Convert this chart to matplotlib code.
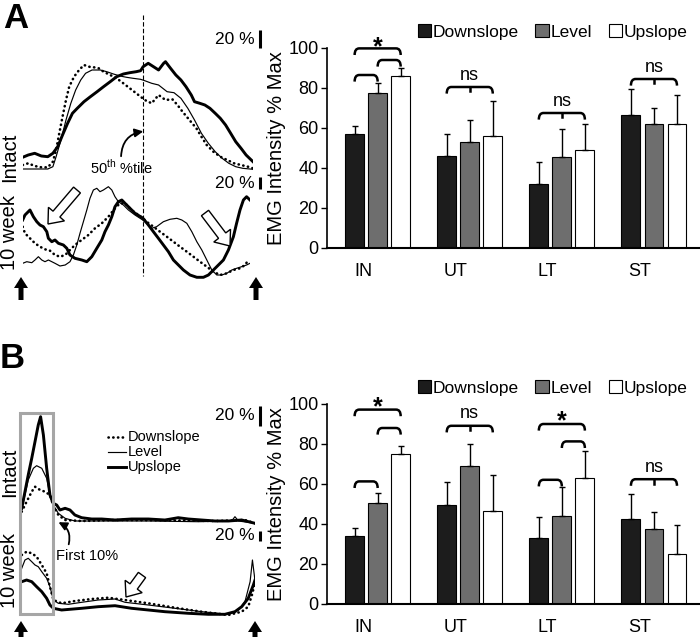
import matplotlib
matplotlib.use('Agg')
import matplotlib.pyplot as plt
from matplotlib.patches import Patch, FancyArrow, Rectangle, PathPatch
from matplotlib.path import Path
from matplotlib.lines import Line2D
import numpy as np

plt.rcParams['font.family'] = ['Liberation Sans', 'DejaVu Sans']
plt.rcParams['mathtext.fontset'] = 'custom'
plt.rcParams['mathtext.rm'] = 'Liberation Sans'

# ---------------- bar data (EMG intensity % max) ----------------
muscles = ['IN', 'UT', 'LT', 'ST']
conditions = ['Downslope', 'Level', 'Upslope']
bar_colors = ['#1c1c1c', '#6e6e6e', '#ffffff']

a_down = [57, 46, 32, 66.5]
a_down_err = [4, 11, 11, 13]
a_level = [77.5, 53, 45.5, 62]
a_level_err = [5, 11, 14, 8]
a_up = [86, 56, 49, 62]
a_up_err = [4, 17.5, 13, 14.5]

b_down = [34, 49.5, 33, 42.5]
b_down_err = [4, 11.5, 10.5, 12.5]
b_level = [50.5, 69, 44, 37.5]
b_level_err = [5, 11, 14.5, 8.5]
b_up = [75, 46.5, 63, 25]
b_up_err = [4, 18, 13.5, 14.5]

# brackets: (muscle, from bar, to bar, height, middle tick)
a_brackets = [(0, 0, 2, 99.8, False), (0, 1, 2, 94, False), (0, 0, 1, 86.5, False),
              (1, 0, 2, 80.5, True), (2, 0, 2, 67.5, True), (3, 0, 2, 84.5, True)]
a_marks = [(0, '*', 104.5), (1, 'ns', 86.5), (2, 'ns', 73.5), (3, 'ns', 90)]
b_brackets = [(0, 0, 2, 97.2, False), (0, 1, 2, 88, False), (0, 0, 1, 61.3, False),
              (1, 0, 2, 89.1, True), (2, 0, 2, 90, False), (2, 1, 2, 81.3, False),
              (2, 0, 1, 62.1, False), (3, 0, 2, 62.4, True)]
b_marks = [(0, '*', 102.2), (1, 'ns', 95.5), (2, '*', 95.2), (3, 'ns', 68.3)]

# ---------------- EMG traces: % gait cycle vs amplitude (a.u.) ----------------
# panel A, intact
a_int_down_x = [0, 2.4, 5.2, 8.1, 10.9, 13.1, 14.5, 15.9, 17.3, 18.8, 20.2, 22.3, 24.5, 26.6, 28.7,
                30.9, 33.0, 35.1, 38.0, 40.8, 43.7, 46.5, 49.3, 51.2, 53.0, 56.0, 59.0, 62.0, 65.0,
                67.2, 69.4, 72.4, 75.4, 77.6, 79.9, 82.8, 85.8, 88.8, 91.8, 94.8, 97.8, 100]
a_int_down_y = [7, 8.7, 6, 4.7, 4.7, 10.3, 22, 39, 55.3, 72, 85.3, 95.3, 102, 107, 105.3,
                104.7, 103.7, 100.3, 97, 93.7, 88.7, 83.7, 78.7, 75.3, 72, 68.7, 77, 72, 72.7,
                67, 60.3, 52, 43.7, 35.3, 27, 20.3, 15.3, 12, 8.7, 7, 5.3, 3.7]
a_int_level_x = [0, 10.9, 13.1, 14.5, 16.6, 18.8, 20.9, 23.0, 25.2, 27.3, 30.1, 33.7, 36.5, 39.4,
                 42.3, 45.1, 47.9, 51.2, 53.0, 56.0, 59.0, 62.7, 65.7, 68.7, 71.7, 74.6, 77.6,
                 80.6, 83.6, 86.6, 89.5, 92.5, 95.5, 100]
a_int_level_y = [3, 3, 5.3, 15.3, 32, 52, 68.7, 82, 92, 98.7, 102, 102, 100.3, 98,
                 96, 94.7, 93.7, 92.7, 91.3, 88.7, 87, 80.3, 79.3, 73.7, 63.7, 52, 38.7,
                 28.7, 20.3, 13.7, 8.7, 5.3, 3.7, 2.7]
a_int_up_x = [0, 2.4, 5.2, 8.1, 10.9, 13.1, 15.2, 17.3, 19.5, 21.6, 23.7, 26.6, 29.4, 32.3, 35.1,
              38.0, 40.8, 43.7, 46.5, 49.3, 51.2, 52.3, 54.5, 56.8, 59.0, 61.2, 62.0, 64.2, 66.5,
              68.7, 70.9, 73.2, 74.6, 76.9, 79.1, 81.3, 83.6, 85.8, 88.1, 90.3, 92.5, 94.8, 97.0, 100]
a_int_up_y = [14.7, 17, 18.7, 16, 15.3, 18.7, 25.3, 37, 48.7, 58.7, 63.7, 70.3, 75.3, 80.3, 85.3,
              90.3, 95.3, 98, 99.3, 100.3, 101.3, 105.3, 108.7, 105.3, 102, 108.7, 110.3, 103.7, 97,
              92, 85.3, 77, 70.3, 68.7, 67, 63.7, 58.7, 53.7, 47, 38.7, 30.3, 23.7, 17, 10.3]

# panel A, 10 week
a_wk_down_x = [0, 1.0, 3.2, 5.4, 7.6, 9.8, 12.0, 14.2, 16.4, 18.7, 20.8, 23.0, 25.9, 28.9, 31.8,
               34.8, 37.7, 40.6, 42.8, 45.0, 47.9, 52.8, 54.5, 57.5, 60.4, 63.4, 66.3, 69.2, 72.2,
               75.1, 78.0, 81.0, 83.9, 86.8, 89.8, 92.7, 95.6, 97.8, 99.3]
a_wk_down_y = [55.3, 48.7, 43.7, 38.7, 35.3, 32.7, 31.3, 27, 25.3, 27, 32, 37, 42, 47, 53.7,
               58.7, 65.3, 73.7, 78.7, 78.7, 72, 63.7, 60.3, 55.3, 50.3, 45.3, 40.3, 35.3, 30.3,
               25.3, 20.3, 15.3, 10.3, 7, 8.7, 12, 13.7, 17, 22]
a_wk_level_x = [0, 1.8, 4.0, 5.4, 6.9, 8.4, 9.8, 11.3, 12.8, 14.2, 16.4, 18.7, 20.8, 22.3, 23.8,
                25.2, 26.7, 28.2, 29.6, 31.1, 32.6, 34.0, 35.5, 37.7, 39.2, 40.6, 42.1, 44.3, 46.5,
                49.4, 52.8, 54.5, 56.7, 58.9, 61.9, 64.8, 67.8, 70.0, 72.2, 74.4, 76.6, 78.8, 81.0,
                83.2, 85.4, 87.6, 89.8, 92.0, 94.1, 96.3, 98.5, 100]
a_wk_level_y = [18.7, 20.3, 19.3, 22, 25.3, 22, 20.3, 22, 20.3, 18.7, 16, 17, 20.3, 27, 37,
                48.7, 60.3, 72, 83.7, 92, 93.7, 90.3, 92, 95.3, 92, 85.3, 80.3, 77, 72,
                67, 62, 58.7, 53.7, 55.3, 60.3, 62.7, 63.7, 62, 58.7, 50.3, 40.3, 32, 22,
                12, 7, 7, 8.7, 12, 13.7, 15.3, 17, 18.7]
a_wk_up_x = [0, 1.0, 3.2, 4.7, 6.2, 7.6, 9.1, 10.6, 11.3, 12.8, 14.2, 15.7, 17.9, 19.4, 20.8,
             23.0, 26.0, 28.2, 30.4, 32.6, 34.8, 36.2, 37.7, 39.2, 40.6, 42.1, 43.6, 45.0, 47.2,
             49.4, 52.8, 55.3, 57.5, 59.7, 61.9, 64.1, 66.3, 68.5, 70.7, 73.6, 76.6, 79.5, 81.7,
             83.9, 86.1, 88.3, 90.5, 92.7, 94.1, 95.6, 97.1, 98.5, 100]
a_wk_up_y = [62, 67, 72, 65.3, 60.3, 57, 55.3, 50.3, 43.7, 40.3, 42, 38.7, 37, 33.7, 27,
             23.7, 22, 20.3, 25.3, 33.7, 42, 50.3, 57, 65.3, 75.3, 80.3, 82, 78.7, 73.7,
             68.7, 64, 57, 50.3, 43.7, 37, 30.3, 22, 17, 12, 7, 4.7, 4.7, 7,
             12, 17, 22, 32, 45.3, 58.7, 72, 82, 85.3, 82]

# panel B, intact
b_int_down_x = [0, 2.1, 4.3, 5.7, 7.9, 10.0, 12.1, 13.5, 15.7, 18.6, 25.7, 40.0, 61.4, 82.9, 95.7, 100]
b_int_down_y = [13.3, 23.3, 33.3, 38.3, 35, 33.3, 30, 20, 10, 5, 4, 5, 4.7, 4, 5, 1.7]
b_int_level_x = [0, 1.4, 2.8, 5.0, 6.4, 8.6, 10.7, 12.1, 13.5, 15.7, 18.6, 22.8, 32.8, 54.3, 75.7,
                 90.0, 91.4, 92.9, 100]
b_int_level_y = [15, 30, 45, 56.7, 59.3, 56.7, 46.7, 30, 20, 11.7, 6.7, 4, 4, 4, 3.3,
                 4, 8.3, 4, 1.7]
b_int_up_x = [0, 1.4, 2.8, 4.3, 5.7, 7.1, 8.1, 9.3, 10.7, 12.1, 13.5, 15.0, 16.4, 18.6, 20.7,
              22.8, 25.7, 30.0, 34.3, 40.0, 47.1, 54.3, 61.4, 67.1, 71.4, 77.1, 82.9, 88.6, 94.3, 100]
b_int_up_y = [16.7, 33.3, 50, 66.7, 83.3, 100, 108.3, 90, 56.7, 30, 21.7, 20, 15, 16.7, 15,
              10, 7.3, 6, 6, 5, 6, 6, 5, 7.3, 6, 5, 4, 4, 5, 1.7]

# panel B, 10 week
b_wk_down_x = [0, 2.1, 4.3, 6.4, 8.6, 10.7, 12.1, 13.6, 17.1, 22.8, 30.0, 37.1, 44.3, 54.3, 65.7,
               77.1, 88.6, 94.3, 97.1, 98.9, 100]
b_wk_down_y = [62, 65.3, 63.7, 60.3, 52, 43.7, 30.3, 17, 13.7, 16, 18, 19.3, 17, 13.7, 9.3,
               5.3, 2, 5.3, 10.3, 23.7, 35.3]
b_wk_level_x = [0, 1.4, 2.8, 4.3, 5.7, 7.1, 8.6, 10.7, 12.1, 13.6, 15.7, 20.0, 25.7, 32.8, 40.0,
                44.3, 54.3, 65.7, 77.1, 88.6, 92.9, 95.7, 97.9, 98.9, 99.7, 100]
b_wk_level_y = [48.7, 57, 58.7, 55.3, 52, 50.3, 45.3, 38.7, 30.3, 17, 13.7, 12.7, 14.7, 17, 18,
                14.7, 12, 8.7, 5.3, 2.7, 7, 15.3, 35.3, 57, 42, 35.3]
b_wk_up_x = [0, 2.1, 4.3, 6.4, 8.6, 10.7, 12.1, 13.6, 17.1, 25.7, 32.8, 40.0, 47.1, 54.3, 61.4,
             71.4, 80.0, 87.1, 91.4, 94.3, 97.1, 99.3, 100]
b_wk_up_y = [35.3, 37, 35.3, 30.3, 25.3, 18.7, 12, 8.7, 7, 8.7, 10.3, 11.3, 8.7, 7, 5.3,
             3.7, 2.7, 2.7, 5.3, 10.3, 18.7, 32, 37]

W, H = 700, 637
fig = plt.figure(figsize=(7, 6.37), dpi=100)


def px_axes(x0, y0, x1, y1):
    # axes from pixel box (top-left origin)
    return fig.add_axes([x0 / W, 1 - y1 / H, (x1 - x0) / W, (y1 - y0) / H])


def bracket(ax, x1, x2, y, tick):
    r, d = 0.05, 3.3
    verts = [(x1, y - d), (x1, y), (x1 + r, y), (x2 - r, y), (x2, y), (x2, y - d)]
    codes = [Path.MOVETO, Path.CURVE3, Path.CURVE3, Path.LINETO, Path.CURVE3, Path.CURVE3]
    ax.add_patch(PathPatch(Path(verts, codes), fill=False, lw=1.8, ec='black', clip_on=False))
    if tick:
        xm = (x1 + x2) / 2
        ax.plot([xm, xm], [y, y - 2.2], color='black', lw=1.8, clip_on=False)


def bar_panel(top, down, down_err, level, level_err, up, up_err, brackets, marks):
    ax = px_axes(327, top, 700, top + 200)
    x = np.arange(len(muscles))
    off = 0.25
    vals = [down, level, up]
    errs = [down_err, level_err, up_err]
    for k in range(3):
        ax.bar(x + (k - 1) * off, vals[k], width=0.205, color=bar_colors[k],
               edgecolor='black', linewidth=0.8, zorder=2)
        ax.errorbar(x + (k - 1) * off, vals[k], yerr=[np.zeros(len(x)), errs[k]], fmt='none',
                    ecolor='black', elinewidth=1.0, capsize=2.5, capthick=1.0, zorder=3)
    for m, a, b, y, tick in brackets:
        bracket(ax, m + (a - 1) * off, m + (b - 1) * off, y, tick)
    for m, txt, y in marks:
        if txt == '*':
            ax.text(m, y - 4, txt, ha='center', va='center', fontsize=18, fontweight='bold',
                    clip_on=False)
        else:
            ax.text(m, y, txt, ha='center', va='center', fontsize=13, clip_on=False)
    ax.set_xlim(-0.55, 3.5)
    ax.set_ylim(0, 100)
    ax.set_yticks(range(0, 101, 20))
    ax.set_xticks(x - 0.155)
    ax.set_xticklabels(muscles)
    ax.tick_params(axis='x', length=0, pad=11, labelsize=13)
    ax.tick_params(axis='y', direction='out', length=4, width=1, pad=2, labelsize=13)
    for s in ['top', 'right']:
        ax.spines[s].set_visible(False)
    ax.spines['left'].set_linewidth(1.2)
    ax.spines['bottom'].set_linewidth(1.5)
    ax.set_ylabel('EMG Intensity % Max', fontsize=14.5, labelpad=2)
    handles = [Patch(facecolor=bar_colors[k], edgecolor='black', linewidth=0.8, label=conditions[k])
               for k in range(3)]
    ax.legend(handles=handles, ncol=3, loc='center', bbox_to_anchor=(0.605, 1.08), frameon=False,
              fontsize=12.5, handlelength=0.75, handleheight=0.75, handletextpad=0.12,
              columnspacing=0.95, borderpad=0, borderaxespad=0)
    return ax


bar_panel(48, a_down, a_down_err, a_level, a_level_err, a_up, a_up_err, a_brackets, a_marks)
bar_panel(404, b_down, b_down_err, b_level, b_level_err, b_up, b_up_err, b_brackets, b_marks)


def trace_axes(x0, x1, base, span=125):
    ax = px_axes(x0, base - span, x1, base)
    ax.set_xlim(0, 100)
    ax.set_ylim(0, span)
    ax.axis('off')
    return ax


def draw_traces(ax, dx, dy, lx, ly, ux, uy):
    ax.plot(dx, dy, color='black', lw=1.9, linestyle=(0, (0.1, 1.7)), dash_capstyle='round')
    ax.plot(lx, ly, color='black', lw=0.85)
    ax.plot(ux, uy, color='black', lw=2.1)


draw_traces(trace_axes(22.7, 253, 172), a_int_down_x, a_int_down_y, a_int_level_x, a_int_level_y,
            a_int_up_x, a_int_up_y)
draw_traces(trace_axes(22.7, 250, 282), a_wk_down_x, a_wk_down_y, a_wk_level_x, a_wk_level_y,
            a_wk_up_x, a_wk_up_y)
draw_traces(trace_axes(21.7, 255, 525), b_int_down_x, b_int_down_y, b_int_level_x, b_int_level_y,
            b_int_up_x, b_int_up_y)
draw_traces(trace_axes(21.7, 255, 617), b_wk_down_x, b_wk_down_y, b_wk_level_x, b_wk_level_y,
            b_wk_up_x, b_wk_up_y)

# ---------------- annotation layer (pixel coords) ----------------
ov = fig.add_axes([0, 0, 1, 1])
ov.set_xlim(0, W)
ov.set_ylim(H, 0)
ov.axis('off')
ov.patch.set_alpha(0)

ov.text(3, 19, 'A', fontsize=25, fontweight='bold', va='center', ha='left')
ov.text(0, 358, 'B', fontsize=25, fontweight='bold', va='center', ha='left')

for y, txt in [(157, 'Intact'), (232, '10 week'), (472, 'Intact'), (570, '10 week')]:
    ov.text(10, y, txt, rotation=90, ha='center', va='center', fontsize=14.5)

# scale bars
for y, h in [(39, 18), (183, 12), (416, 20), (536, 10)]:
    ov.text(255, y, '20 %', ha='right', va='center', fontsize=12.5)
    ov.plot([259.5, 259.5], [y - h / 2, y + h / 2], color='black', lw=2.2, solid_capstyle='butt')

# 50th percentile line
ov.plot([143, 143], [15, 276], color='black', lw=0.8, dashes=(4, 2))
ov.text(121, 167, r'50$^{\mathrm{th}}$ %tile', ha='center', va='center', fontsize=10.5)
ov.annotate('', xy=(146, 131), xytext=(121, 159),
            arrowprops=dict(arrowstyle='-|>,head_length=0.5,head_width=0.25', lw=1.3, color='black',
                            connectionstyle='arc3,rad=-0.45'))

# first 10% box
ov.add_patch(Rectangle((19.5, 413), 33.5, 201, fill=False, ec='#a6a6a6', lw=2.2))
ov.text(87, 556, 'First 10%', ha='center', va='center', fontsize=10.5)
ov.annotate('', xy=(56, 521), xytext=(68, 547),
            arrowprops=dict(arrowstyle='-|>,head_length=0.5,head_width=0.25', lw=1.3, color='black',
                            connectionstyle='arc3,rad=0.45'))

# trace legend in B
for y, lab, ls, lw in [(437, 'Downslope', (0, (0.1, 1.7)), 1.9), (452, 'Level', '-', 0.85),
                       (467, 'Upslope', '-', 2.1)]:
    ov.add_line(Line2D([108, 126], [y, y], color='black', lw=lw, linestyle=ls,
                       dash_capstyle='round'))
    ov.text(128, y, lab, ha='left', va='center', fontsize=10.5)

# hollow arrows
for (x0, y0), (x1, y1) in [((77, 190), (48, 224)), ((205, 213), (230, 246)),
                           ((142, 575), (126, 597))]:
    ov.add_patch(FancyArrow(x0, y0, x1 - x0, y1 - y0, width=9, head_width=21, head_length=13,
                            length_includes_head=True, fc='white', ec='black', lw=1.0))

# foot strike arrows
for x, y0, y1 in [(21, 300, 277), (256, 300, 277), (21, 642, 621), (255, 642, 621)]:
    ov.add_patch(FancyArrow(x, y0, 0, y1 - y0, width=5, head_width=14, head_length=11,
                            length_includes_head=True, fc='black', ec='black', lw=0))

fig.savefig('out.png', dpi=100)
